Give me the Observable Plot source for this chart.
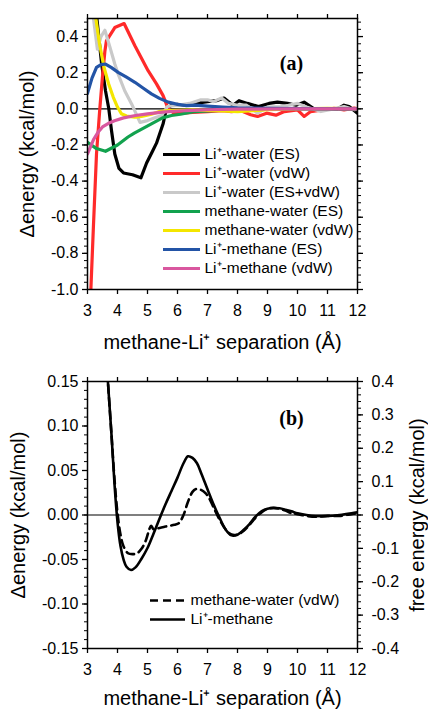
<!DOCTYPE html>
<html>
<head>
<meta charset="utf-8">
<script src="https://cdn.jsdelivr.net/npm/d3@7"></script>
<script src="https://cdn.jsdelivr.net/npm/@observablehq/plot@0.6"></script>
<style>
  html, body { margin: 0; padding: 0; background: #fff; }
  #wrap { position: relative; width: 428px; height: 713px; overflow: hidden; background: #fff; }
  #wrap > div, #wrap > svg { position: absolute; }
</style>
</head>
<body>
<div id="wrap"></div>
<script>
// ---------- Panel (a) data: [separation Å, Δenergy kcal/mol] ----------
const liWaterES = [[3.2,0.75],[3.3,0.52],[3.47,0.25],[3.6,0.1],[3.71,0.0],[3.8,-0.12],[3.91,-0.25],[4.05,-0.33],[4.2,-0.355],[4.5,-0.365],[4.78,-0.382],[4.97,-0.30],[5.15,-0.24],[5.3,-0.19],[5.52,-0.083],[5.63,0.0],[5.8,0.02],[6.0,0.025],[6.3,0.02],[6.6,0.03],[7.0,0.04],[7.3,0.045],[7.55,0.06],[7.85,0.02],[8.05,0.045],[8.33,0.03],[8.7,0.013],[9.05,0.03],[9.33,0.037],[9.67,0.03],[9.95,0.02],[10.22,0.037],[10.55,0.0],[11.0,0.0],[11.33,0.0],[11.55,0.02],[11.72,0.013],[12.0,-0.024]];
const liWaterVdW = [[3.1,-1.05],[3.2,-0.64],[3.3,-0.25],[3.41,0.0],[3.5,0.18],[3.58,0.32],[3.63,0.376],[3.91,0.45],[4.22,0.472],[4.58,0.349],[5.02,0.211],[5.3,0.138],[5.52,0.073],[5.69,0.0],[5.85,-0.02],[6.1,-0.025],[6.5,-0.02],[7.0,-0.015],[7.5,-0.01],[7.8,-0.015],[8.1,-0.01],[8.44,-0.033],[8.67,-0.042],[8.97,-0.024],[9.28,-0.035],[9.56,-0.015],[10.0,-0.006],[10.22,-0.042],[10.44,-0.015],[10.89,-0.005],[11.22,0.003],[11.55,-0.006],[11.89,0.004],[12.0,0.0]];
const liWaterTotal = [[3.2,0.5],[3.33,0.33],[3.45,0.40],[3.58,0.435],[3.75,0.34],[3.91,0.248],[4.02,0.193],[4.24,0.1],[4.47,0.027],[4.75,-0.075],[5.0,-0.065],[5.25,-0.05],[5.47,-0.037],[5.67,0.013],[6.0,0.02],[6.4,0.03],[6.78,0.05],[7.0,0.05],[7.2,0.04],[7.47,0.06],[7.7,0.03],[8.0,0.02],[8.3,0.02],[8.67,-0.024],[9.0,0.01],[9.45,0.013],[9.7,0.02],[10.0,0.03],[10.3,0.01],[10.78,-0.015],[11.2,0.0],[11.55,0.013],[11.9,-0.005],[12.0,0.0]];
const methWaterES = [[3.0,-0.186],[3.3,-0.22],[3.6,-0.235],[4.0,-0.2],[4.35,-0.156],[4.56,-0.134],[5.13,-0.083],[5.5,-0.05],[5.8,-0.037],[6.1,-0.03],[6.58,-0.015],[7.2,-0.01],[8.0,-0.005],[9.0,-0.002],[10.0,-0.001],[12.0,0.0]];
const methWaterVdW = [[3.2,0.62],[3.28,0.5],[3.4,0.36],[3.55,0.23],[3.7,0.14],[3.86,0.064],[4.0,0.01],[4.13,-0.027],[4.3,-0.04],[4.58,-0.046],[4.8,-0.042],[5.13,-0.03],[5.4,-0.015],[5.7,-0.01],[6.0,-0.008],[6.5,-0.005],[7.0,-0.008],[7.5,-0.012],[8.0,-0.015],[8.5,-0.01],[9.0,-0.005],[10.0,0.0],[11.0,0.002],[12.0,0.0]];
const liMethES = [[3.0,0.086],[3.15,0.17],[3.3,0.23],[3.45,0.245],[3.6,0.248],[3.8,0.228],[4.02,0.202],[4.3,0.175],[4.58,0.147],[4.85,0.115],[5.13,0.083],[5.4,0.058],[5.69,0.037],[6.0,0.025],[6.3,0.018],[6.6,0.02],[7.0,0.015],[7.5,0.01],[8.0,0.006],[9.0,0.003],[10.0,0.001],[12.0,0.0]];
const liMethVdW = [[3.0,-0.25],[3.1,-0.21],[3.2,-0.17],[3.35,-0.13],[3.5,-0.1],[3.7,-0.08],[3.9,-0.066],[4.2,-0.05],[4.6,-0.037],[5.0,-0.028],[5.5,-0.018],[6.0,-0.012],[6.5,-0.008],[7.0,-0.005],[8.0,-0.002],[10.0,0.0],[12.0,0.0]];

const seriesNamesA = ["Li\u207A-water (ES)","Li\u207A-water (vdW)","Li\u207A-water (ES+vdW)","methane-water (ES)","methane-water (vdW)","Li\u207A-methane (ES)","Li\u207A-methane (vdW)"];
const seriesColorsA = ["#000000","#ff2a2a","#c9c9c9","#12a24e","#f4e600","#2354a6","#d9579f"];
const seriesDataA = [liWaterES, liWaterVdW, liWaterTotal, methWaterES, methWaterVdW, liMethES, liMethVdW];

// ---------- Panel (b) data ----------
// methane-water (vdW), Δenergy (left axis, kcal/mol)
const methWaterVdWb = [[3.6,0.19],[3.7,0.14],[3.8,0.09],[3.9,0.04],[4.0,0.002],[4.1,-0.022],[4.2,-0.035],[4.35,-0.043],[4.5,-0.044],[4.65,-0.043],[4.8,-0.038],[4.95,-0.028],[5.05,-0.017],[5.12,-0.012],[5.2,-0.016],[5.35,-0.015],[5.6,-0.013],[5.9,-0.011],[6.05,-0.009],[6.2,0.0],[6.35,0.015],[6.5,0.026],[6.6,0.029],[6.8,0.028],[6.95,0.024],[7.1,0.016],[7.25,0.005],[7.4,-0.005],[7.6,-0.016],[7.8,-0.022],[8.0,-0.022],[8.2,-0.018],[8.4,-0.011],[8.6,-0.003],[8.8,0.003],[9.0,0.007],[9.2,0.008],[9.4,0.007],[9.6,0.005],[9.8,0.002],[10.0,0.001],[10.3,-0.001],[10.6,-0.002],[11.0,-0.001],[11.4,-0.001],[11.8,0.001],[12.0,0.002]];
// Li+-methane, free energy (right axis, kcal/mol)
const liMethFree = [[3.6,0.507],[3.7,0.373],[3.8,0.24],[3.9,0.093],[4.0,-0.021],[4.1,-0.093],[4.2,-0.133],[4.3,-0.155],[4.45,-0.165],[4.6,-0.157],[4.8,-0.131],[5.0,-0.099],[5.2,-0.056],[5.4,-0.011],[5.6,0.032],[5.8,0.072],[6.0,0.112],[6.2,0.155],[6.35,0.176],[6.5,0.171],[6.65,0.155],[6.8,0.123],[7.0,0.077],[7.2,0.032],[7.4,-0.008],[7.6,-0.043],[7.8,-0.061],[8.0,-0.059],[8.2,-0.045],[8.4,-0.027],[8.6,-0.005],[8.8,0.011],[9.0,0.019],[9.2,0.021],[9.4,0.02],[9.6,0.016],[9.8,0.011],[10.0,0.005],[10.3,0.0],[10.6,-0.003],[11.0,-0.003],[11.4,0.0],[11.8,0.005],[12.0,0.008]];
const seriesNamesB = ["methane-water (vdW)","Li\u207A-methane"];

// ---------- ticks and labels ----------
const xTicks = [3,4,5,6,7,8,9,10,11,12];
const yTicksA = [-1.0,-0.8,-0.6,-0.4,-0.2,0.0,0.2,0.4];
const yTicksB = [-0.15,-0.10,-0.05,0.00,0.05,0.10,0.15];
const yTicksBRight = [-0.4,-0.3,-0.2,-0.1,0.0,0.1,0.2,0.3,0.4];
const xLabel = "methane-Li\u207A separation (\u00C5)";
const yLabelLeft = "\u0394energy (kcal/mol)";
const yLabelRight = "free energy (kcal/mol)";

const FONT = "'Liberation Sans', Arial, sans-serif";
const TICK_FS = 16, LABEL_FS = 20, LEGEND_FS = 15.5;
const rightScale = 0.15 / 0.4; // free-energy axis -> left axis units

const range = (a, b, s) => d3.range(Math.round((b - a) / s) + 1).map(i => +(a + i * s).toFixed(6));

const wrap = document.getElementById("wrap");

function frameAxes(yMajor, yMinor, yFmt, rightMajor, rightMinor, rightFmt) {
  return [
    Plot.frame({stroke: "black", strokeWidth: 1.5}),
    Plot.axisX({ticks: xTicks, anchor: "bottom", tickSize: 5, tickPadding: 10, strokeWidth: 1.3, fontSize: TICK_FS, tickFormat: d => String(d), label: null}),
    Plot.axisX({ticks: xTicks, anchor: "top", tickSize: 5, strokeWidth: 1.3, tickFormat: () => "", label: null}),
    Plot.axisY({ticks: yMajor, anchor: "left", tickSize: 5, tickPadding: 4, strokeWidth: 1.3, fontSize: TICK_FS, tickFormat: yFmt, label: null}),
    Plot.axisY({ticks: yMinor, anchor: "left", tickSize: 3, strokeWidth: 1, tickFormat: () => "", label: null}),
    Plot.axisY({ticks: rightMajor, anchor: "right", tickSize: 5, tickPadding: 9, strokeWidth: 1.3, fontSize: TICK_FS, tickFormat: rightFmt, label: null}),
    Plot.axisY({ticks: rightMinor, anchor: "right", tickSize: 3, strokeWidth: 1, tickFormat: () => "", label: null})
  ];
}

// ---------- Panel (a) ----------
const lineMarksA = seriesDataA.map((data, i) =>
  Plot.line(data, {x: d => d[0], y: d => d[1], stroke: seriesColorsA[i], strokeWidth: 3.2, clip: true, strokeLinejoin: "round"})
);

const panelA = Plot.plot({
  width: 428, height: 360,
  marginTop: 18, marginBottom: 71, marginLeft: 87, marginRight: 71,
  style: {fontFamily: FONT, background: "transparent", overflow: "visible", color: "black"},
  x: {domain: [3, 12]},
  y: {domain: [-1, 0.5]},
  marks: [
    Plot.ruleY([0], {stroke: "black", strokeWidth: 1.2}),
    ...lineMarksA,
    ...frameAxes(yTicksA, range(-1, 0.48, 0.04), d => d.toFixed(1), yTicksA, range(-1, 0.48, 0.04), () => ""),
    Plot.text([xLabel], {frameAnchor: "bottom", dy: 53, fontSize: LABEL_FS, lineAnchor: "middle", textAnchor: "middle"}),
    Plot.text([yLabelLeft], {frameAnchor: "left", dx: -60, rotate: -90, fontSize: LABEL_FS, lineAnchor: "middle", textAnchor: "middle"}),
    Plot.text(["(a)"], {frameAnchor: "top-left", dx: 204, dy: 45, fontSize: 20, fontWeight: "bold", fontFamily: "'Liberation Serif', 'Times New Roman', serif", lineAnchor: "middle", textAnchor: "middle"})
  ]
});
panelA.style.left = "0px"; panelA.style.top = "0px";
wrap.appendChild(panelA);

// legend (a)
const legendA = Plot.plot({
  width: 200, height: 134,
  margin: 0,
  style: {fontFamily: FONT, background: "transparent", overflow: "visible", color: "black"},
  x: {domain: [0, 1], range: [0, 37], axis: null},
  y: {type: "point", domain: seriesNamesA, range: [9, 9 + 6 * 19.3], padding: 0, axis: null},
  color: {domain: seriesNamesA, range: seriesColorsA},
  marks: [
    Plot.ruleY(seriesNamesA, {y: d => d, x1: 0, x2: 1, stroke: d => d, strokeWidth: 3.2}),
    Plot.text(seriesNamesA, {y: d => d, x: 1, dx: 4, text: d => d, textAnchor: "start", fontSize: LEGEND_FS, fill: "black"})
  ]
});
legendA.style.left = "163px"; legendA.style.top = "144px";
wrap.appendChild(legendA);

// ---------- Panel (b) ----------
const panelB = Plot.plot({
  width: 428, height: 353,
  marginTop: 21, marginBottom: 65, marginLeft: 87, marginRight: 71,
  style: {fontFamily: FONT, background: "transparent", overflow: "visible", color: "black"},
  x: {domain: [3, 12]},
  y: {domain: [-0.15, 0.15]},
  marks: [
    Plot.ruleY([0], {stroke: "black", strokeWidth: 1.2}),
    Plot.line(methWaterVdWb, {x: d => d[0], y: d => d[1], stroke: "black", strokeWidth: 2.6, strokeDasharray: "8,5", curve: "catmull-rom", clip: true}),
    Plot.line(liMethFree, {x: d => d[0], y: d => d[1] * rightScale, stroke: "black", strokeWidth: 2.6, curve: "catmull-rom", clip: true}),
    ...frameAxes(yTicksB, range(-0.15, 0.15, 0.01), d => d.toFixed(2),
                 yTicksBRight.map(t => +(t * rightScale).toFixed(6)),
                 range(-0.4, 0.4, 0.02).map(t => +(t * rightScale).toFixed(6)),
                 d => (d / rightScale).toFixed(1)),
    Plot.text([xLabel], {frameAnchor: "bottom", dy: 50, fontSize: LABEL_FS, lineAnchor: "middle", textAnchor: "middle"}),
    Plot.text([yLabelLeft], {frameAnchor: "left", dx: -69, rotate: -90, fontSize: LABEL_FS, lineAnchor: "middle", textAnchor: "middle"}),
    Plot.text([yLabelRight], {frameAnchor: "right", dx: 60, rotate: -90, fontSize: LABEL_FS, lineAnchor: "middle", textAnchor: "middle"}),
    Plot.text(["(b)"], {frameAnchor: "top-left", dx: 204, dy: 37, fontSize: 20, fontWeight: "bold", fontFamily: "'Liberation Serif', 'Times New Roman', serif", lineAnchor: "middle", textAnchor: "middle"})
  ]
});
panelB.style.left = "0px"; panelB.style.top = "360px";
wrap.appendChild(panelB);

// legend (b)
const legendB = Plot.plot({
  width: 200, height: 40,
  margin: 0,
  style: {fontFamily: FONT, background: "transparent", overflow: "visible", color: "black"},
  x: {domain: [0, 1], range: [0, 35], axis: null},
  y: {type: "point", domain: seriesNamesB, range: [9, 28], padding: 0, axis: null},
  marks: [
    Plot.ruleY([seriesNamesB[0]], {y: d => d, x1: 0, x2: 1, stroke: "black", strokeWidth: 2.6, strokeDasharray: "8,5"}),
    Plot.ruleY([seriesNamesB[1]], {y: d => d, x1: 0, x2: 1, stroke: "black", strokeWidth: 2.6}),
    Plot.text(seriesNamesB, {y: d => d, x: 1, dx: 5, text: d => d, textAnchor: "start", fontSize: LEGEND_FS, fill: "black"})
  ]
});
legendB.style.left = "150px"; legendB.style.top = "591px";
wrap.appendChild(legendB);
</script>
</body>
</html>
